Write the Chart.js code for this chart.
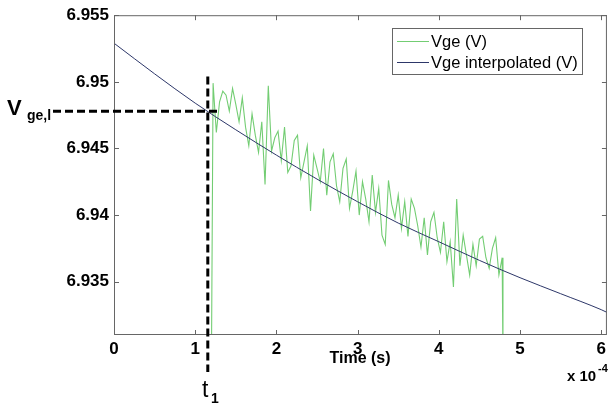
<!DOCTYPE html>
<html><head><meta charset="utf-8">
<script src="https://cdn.jsdelivr.net/npm/chart.js@4.4.0/dist/chart.umd.min.js"></script>
<style>html,body{margin:0;padding:0;background:#fff}#wrap{width:610px;height:408px}</style>
</head><body><div id="wrap"><canvas id="c" width="610" height="408"></canvas></div>
<script>
// time in units of 1e-4 s
const interpTime = [0,0.5,1,1.5,2,2.5,3,3.5,4,4.5,5,5.5,6,6.07];
const interpVge  = [6.9529,6.9506,6.9484,6.9464,6.9445,6.9427,6.9410,6.9394,6.9380,6.9366,6.9353,6.9341,6.9329,6.9327];

const vgeTime = [1.20,1.22,1.26,1.30,1.34,1.38,1.42,1.46,1.50,1.54,1.58,1.62,1.66,1.70,1.74,1.78,1.82,1.86,1.90,1.94,1.98,
  2.02,2.06,2.10,2.14,2.18,2.22,2.26,2.30,2.34,2.38,2.42,2.46,2.50,2.54,2.58,2.62,2.66,2.70,2.74,2.78,2.82,2.86,2.90,2.94,2.98,
  3.02,3.06,3.10,3.14,3.18,3.22,3.26,3.30,3.34,3.38,3.42,3.46,3.50,3.54,3.58,3.62,3.66,3.70,3.74,3.78,3.82,3.86,3.90,3.94,3.98,
  4.02,4.06,4.10,4.14,4.18,4.22,4.26,4.30,4.34,4.38,4.42,4.46,4.50,4.54,4.58,4.62,4.66,4.70,4.74,4.78,4.79];
const vgeValue = [6.9290,6.9499,6.9462,6.9485,6.9493,6.9490,6.9478,6.9495,6.9483,6.9470,6.9488,6.9466,6.9452,6.9476,6.9460,6.9447,6.9470,6.9423,6.9497,6.9448,6.9458,
  6.9463,6.9441,6.9466,6.9432,6.9437,6.9456,6.9460,6.9428,6.9440,6.9452,6.9403,6.9445,6.9435,6.9425,6.9450,6.9415,6.9440,6.9446,6.9422,6.9410,6.9435,6.9442,6.9405,6.9418,6.9433,
  6.9400,6.9425,6.9412,6.9395,6.9430,6.9402,6.9420,6.9385,6.9378,6.9426,6.9408,6.9398,6.9415,6.9390,6.9410,6.9384,6.9412,6.9405,6.9392,6.9376,6.9398,6.9370,6.9395,6.9402,6.9383,
  6.9372,6.9395,6.9365,6.9380,6.9346,6.9412,6.9362,6.9385,6.9370,6.9355,6.9378,6.9362,6.9382,6.9384,6.9368,6.9360,6.9375,6.9383,6.9355,6.9368,6.9290];

const xTicks = [0,1,2,3,4,5,6];
const yTicks = [6.935,6.94,6.945,6.95,6.955];
const xRange = [0, 6.07];
const yRange = [6.931, 6.955];
const t1 = 1.155;
const vgeL = 6.9478;
const seriesLabels = ['Vge (V)', 'Vge interpolated (V)'];
const seriesColors = ['rgb(115,205,115)', 'rgb(45,55,105)'];

const extras = {
  id: 'extras',
  afterDraw(chart) {
    const ctx = chart.ctx, a = chart.chartArea;
    const xs = chart.scales.x, ys = chart.scales.y;
    ctx.save();
    // box
    ctx.strokeStyle = '#666'; ctx.lineWidth = 1;
    ctx.strokeRect(a.left + 0.5, a.top + 0.5, a.right - a.left - 1, a.bottom - a.top - 1);
    // inner ticks
    ctx.beginPath();
    xTicks.forEach(v => {
      const x = Math.round(xs.getPixelForValue(v)) + 0.5;
      ctx.moveTo(x, a.bottom); ctx.lineTo(x, a.bottom - 5);
      ctx.moveTo(x, a.top); ctx.lineTo(x, a.top + 5);
    });
    yTicks.forEach(v => {
      const y = Math.round(ys.getPixelForValue(v)) + 0.5;
      ctx.moveTo(a.left, y); ctx.lineTo(a.left + 5, y);
      ctx.moveTo(a.right, y); ctx.lineTo(a.right - 5, y);
    });
    ctx.stroke();
    // dashed guides
    const px = xs.getPixelForValue(t1), py = ys.getPixelForValue(vgeL);
    ctx.strokeStyle = '#000'; ctx.lineWidth = 3; ctx.setLineDash([8, 4]);
    ctx.beginPath();
    ctx.moveTo(53, py); ctx.lineTo(px + 13, py);
    ctx.moveTo(px, ys.getPixelForValue(6.9504)); ctx.lineTo(px, 372);
    ctx.stroke();
    ctx.setLineDash([]);
    // legend
    ctx.fillStyle = '#fff'; ctx.strokeStyle = '#666'; ctx.lineWidth = 1;
    ctx.fillRect(392.5, 28.5, 190, 46);
    ctx.strokeRect(392.5, 28.5, 190, 46);
    ctx.font = '16.5px "Liberation Sans", Arial, sans-serif';
    ctx.textBaseline = 'middle'; ctx.textAlign = 'left';
    [41, 62].forEach((yy, i) => {
      ctx.strokeStyle = seriesColors[i];
      ctx.beginPath(); ctx.moveTo(397, yy + 0.5); ctx.lineTo(429, yy + 0.5); ctx.stroke();
      ctx.fillStyle = '#000';
      ctx.fillText(seriesLabels[i], 431, yy + 1);
    });
    // axis title
    ctx.fillStyle = '#000';
    ctx.textBaseline = 'alphabetic';
    ctx.textAlign = 'center';
    ctx.font = 'bold 16px "Liberation Sans", Arial, sans-serif';
    ctx.fillText('Time (s)', 360, 363);
    // exponent
    ctx.textAlign = 'left';
    ctx.font = 'bold 15px "Liberation Sans", Arial, sans-serif';
    ctx.fillText('x 10', 567, 381);
    ctx.font = 'bold 11px "Liberation Sans", Arial, sans-serif';
    ctx.fillText('-4', 598, 372);
    // t1
    ctx.font = '23px "Liberation Sans", Arial, sans-serif';
    ctx.fillText('t', 202, 397);
    ctx.font = 'bold 14px "Liberation Sans", Arial, sans-serif';
    ctx.fillText('1', 211, 403);
    // V_ge,l
    ctx.font = 'bold 22px "Liberation Sans", Arial, sans-serif';
    ctx.fillText('V', 7, 115);
    ctx.font = 'bold 14px "Liberation Sans", Arial, sans-serif';
    ctx.fillText('ge,l', 27, 120);
    ctx.restore();
  }
};

new Chart(document.getElementById('c'), {
  type: 'line',
  data: {
    datasets: [
      { label: seriesLabels[1], data: interpTime.map((t, i) => ({x: t, y: interpVge[i]})),
        borderColor: seriesColors[1], borderWidth: 1, pointRadius: 0, tension: 0, cubicInterpolationMode: 'monotone', order: 1 },
      { label: seriesLabels[0], data: vgeTime.map((t, i) => ({x: t, y: vgeValue[i]})),
        borderColor: seriesColors[0], borderWidth: 1.1, pointRadius: 0, tension: 0, order: 2 }
    ]
  },
  options: {
    responsive: false, animation: false, devicePixelRatio: 1,
    layout: { padding: { left: 0, top: 12, right: 3, bottom: 0 } },
    plugins: { legend: { display: false }, tooltip: { enabled: false } },
    scales: {
      x: {
        type: 'linear', min: xRange[0], max: xRange[1],
        afterBuildTicks: s => { s.ticks = xTicks.map(v => ({value: v})); },
        afterFit: s => { s.height = 73; },
        grid: { display: false, drawTicks: false }, border: { display: false },
        ticks: { padding: 4, color: '#000', font: { family: '"Liberation Sans", Arial, sans-serif', size: 17, weight: 'bold' },
                 maxRotation: 0, autoSkip: false, callback: v => String(v) }
      },
      y: {
        type: 'linear', min: yRange[0], max: yRange[1],
        afterBuildTicks: s => { s.ticks = yTicks.map(v => ({value: v})); },
        afterFit: s => { s.width = 114; },
        grid: { display: false, drawTicks: false }, border: { display: false },
        ticks: { padding: 5, color: '#000', font: { family: '"Liberation Sans", Arial, sans-serif', size: 17, weight: 'bold' },
                 autoSkip: false, callback: v => String(+(+v).toFixed(3)) }
      }
    }
  },
  plugins: [extras]
});
</script>
</body></html>
